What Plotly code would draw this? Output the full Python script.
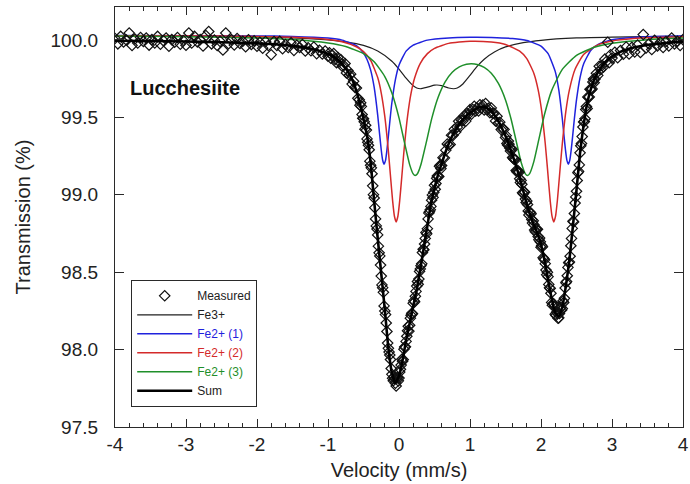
import plotly.graph_objects as go

# ---------------- data ----------------
x_ticks = [-4, -3, -2, -1, 0, 1, 2, 3, 4]
x_tick_labels = ["-4", "-3", "-2", "-1", "0", "1", "2", "3", "4"]
y_ticks = [97.5, 98.0, 98.5, 99.0, 99.5, 100.0]
y_tick_labels = ["97.5", "98.0", "98.5", "99.0", "99.5", "100.0"]

# Measured spectrum (velocity mm/s, transmission %)
meas_v_a = [-4.00, -3.96, -3.92, -3.88, -3.84, -3.80, -3.76, -3.72, -3.68, -3.64,
            -3.60, -3.56, -3.52, -3.48, -3.44, -3.40, -3.36, -3.32, -3.28, -3.24,
            -3.20, -3.16, -3.12, -3.08, -3.04, -3.00, -2.96, -2.92, -2.88, -2.84,
            -2.80, -2.76, -2.72, -2.68, -2.64, -2.60, -2.56, -2.52, -2.48, -2.44,
            -2.40, -2.36, -2.32, -2.28, -2.24, -2.20, -2.16, -2.12, -2.08, -2.04,
            -2.00, -1.96, -1.92, -1.88, -1.84, -1.80, -1.76, -1.72, -1.68, -1.64,
            -1.60, -1.56, -1.52, -1.48, -1.44, -1.40, -1.36, -1.32, -1.28, -1.24,
            -1.20, -1.16, -1.12, -1.08, -1.04, -1.00]
meas_t_a = [100.010, 99.975, 100.023, 99.987, 100.000, 100.045, 99.965, 100.006, 99.980, 100.016,
            99.990, 100.012, 99.967, 100.002, 99.981, 100.023, 99.973, 99.996, 100.012, 99.960,
            100.002, 99.986, 100.016, 99.973, 99.997, 99.966, 100.045, 99.980, 100.023, 99.988,
            100.002, 99.961, 100.029, 100.055, 99.975, 99.999, 99.964, 99.991, 99.935, 100.045,
            99.976, 100.002, 99.968, 100.009, 99.978, 99.992, 99.956, 100.001, 99.971, 99.994,
            99.960, 99.985, 99.947, 99.990, 99.964, 99.905, 99.990, 99.965, 99.991, 99.944,
            99.971, 99.951, 99.981, 99.933, 99.966, 99.951, 99.971, 99.929, 99.949, 99.930,
            99.954, 99.912, 99.934, 99.910, 99.928, 99.895]

meas_v_b = [-0.98, -0.96, -0.94, -0.92, -0.90, -0.88, -0.86, -0.84, -0.82, -0.80,
            -0.78, -0.76, -0.74, -0.72, -0.70, -0.68, -0.66, -0.64, -0.62, -0.60,
            -0.58, -0.56, -0.54, -0.52, -0.50, -0.48, -0.46, -0.44, -0.42, -0.40,
            -0.38, -0.36, -0.34, -0.32, -0.30, -0.28, -0.26, -0.24, -0.22, -0.20,
            -0.18, -0.16, -0.14, -0.12, -0.10, -0.08, -0.06, -0.04, -0.02, 0.00,
            0.02, 0.04, 0.06, 0.08, 0.10, 0.12, 0.14, 0.16, 0.18, 0.20,
            0.22, 0.24, 0.26, 0.28, 0.30, 0.32, 0.34, 0.36, 0.38, 0.40,
            0.42, 0.44, 0.46, 0.48, 0.50, 0.52, 0.54, 0.56, 0.58, 0.60,
            0.62, 0.64, 0.66, 0.68, 0.70, 0.72, 0.74, 0.76, 0.78, 0.80,
            0.82, 0.84, 0.86, 0.88, 0.90, 0.92, 0.94, 0.96, 0.98, 1.00,
            1.02, 1.04, 1.06, 1.08, 1.10, 1.12, 1.14, 1.16, 1.18, 1.20,
            1.22, 1.24, 1.26, 1.28, 1.30, 1.32, 1.34, 1.36, 1.38, 1.40,
            1.42, 1.44, 1.46, 1.48, 1.50, 1.52, 1.54, 1.56, 1.58, 1.60,
            1.62, 1.64, 1.66, 1.68, 1.70, 1.72, 1.74, 1.76, 1.78, 1.80,
            1.82, 1.84, 1.86, 1.88, 1.90, 1.92, 1.94, 1.96, 1.98, 2.00,
            2.02, 2.04, 2.06, 2.08, 2.10, 2.12, 2.14, 2.16, 2.18, 2.20,
            2.22, 2.24, 2.26, 2.28, 2.30, 2.32, 2.34, 2.36, 2.38, 2.40,
            2.42, 2.44, 2.46, 2.48, 2.50, 2.52, 2.54, 2.56, 2.58, 2.60,
            2.62, 2.64, 2.66, 2.68, 2.70, 2.72, 2.74, 2.76, 2.78, 2.80,
            2.82, 2.84, 2.86, 2.88, 2.90, 2.92, 2.94, 2.96, 2.98]
meas_t_b = [99.917, 99.882, 99.901, 99.912, 99.875, 99.853, 99.886, 99.859, 99.873, 99.831,
            99.836, 99.848, 99.787, 99.803, 99.773, 99.779, 99.715, 99.733, 99.694, 99.690,
            99.623, 99.614, 99.594, 99.518, 99.491, 99.424, 99.418, 99.340, 99.291, 99.191,
            99.136, 99.001, 98.917, 98.799, 98.741, 98.625, 98.546, 98.418, 98.370, 98.249,
            98.172, 98.042, 97.984, 97.936, 97.840, 97.799, 97.813, 97.765, 97.819, 97.816,
            97.873, 97.937, 97.935, 98.017, 98.053, 98.121, 98.119, 98.203, 98.234, 98.300,
            98.309, 98.376, 98.440, 98.456, 98.521, 98.554, 98.648, 98.682, 98.757, 98.781,
            98.882, 98.903, 98.965, 98.983, 99.061, 99.073, 99.122, 99.118, 99.190, 99.189,
            99.240, 99.238, 99.288, 99.328, 99.320, 99.325, 99.385, 99.384, 99.423, 99.406,
            99.437, 99.475, 99.440, 99.482, 99.478, 99.512, 99.476, 99.525, 99.520, 99.550,
            99.521, 99.550, 99.572, 99.542, 99.561, 99.541, 99.582, 99.561, 99.580, 99.548,
            99.589, 99.550, 99.559, 99.530, 99.561, 99.525, 99.526, 99.477, 99.507, 99.464,
            99.469, 99.421, 99.426, 99.422, 99.370, 99.331, 99.347, 99.303, 99.300, 99.241,
            99.230, 99.226, 99.149, 99.149, 99.103, 99.093, 99.013, 99.019, 98.972, 98.960,
            98.895, 98.888, 98.877, 98.817, 98.806, 98.761, 98.777, 98.730, 98.721, 98.661,
            98.664, 98.587, 98.555, 98.483, 98.471, 98.399, 98.364, 98.286, 98.294, 98.229,
            98.242, 98.202, 98.233, 98.273, 98.265, 98.304, 98.398, 98.440, 98.531, 98.566,
            98.671, 98.783, 98.825, 98.947, 99.023, 99.143, 99.193, 99.317, 99.376, 99.470,
            99.491, 99.570, 99.632, 99.632, 99.681, 99.684, 99.748, 99.748, 99.785, 99.771,
            99.830, 99.809, 99.836, 99.826, 99.876, 99.860, 99.985, 99.853, 99.905]

meas_v_c = [3.00, 3.04, 3.08, 3.12, 3.16, 3.20, 3.24, 3.28, 3.32, 3.36,
            3.40, 3.44, 3.48, 3.52, 3.56, 3.60, 3.64, 3.68, 3.72, 3.76,
            3.80, 3.84, 3.88, 3.92, 3.96, 4.00]
meas_t_c = [99.883, 99.920, 99.885, 99.932, 99.908, 99.955, 99.909, 99.952, 99.923, 99.967,
            99.919, 100.035, 99.948, 99.975, 99.938, 99.998, 99.961, 99.985, 99.952, 99.990,
            99.962, 100.012, 99.974, 99.992, 99.965, 100.002]

# second half of the (unfolded) spectrum, steep parts of the two dips
meas_v_d = [-0.55, -0.53, -0.51, -0.49, -0.47, -0.45, -0.43, -0.41, -0.39, -0.37,
            -0.35, -0.33, -0.31, -0.29, -0.27, -0.25, -0.23, -0.21, -0.19, -0.17,
            -0.15, -0.13, -0.11, -0.09, -0.07, -0.05, -0.03, -0.01, 0.01, 0.03,
            0.05, 0.07, 0.09, 0.11, 0.13, 0.15, 0.17, 0.19, 0.21, 0.23,
            0.25, 0.27, 0.29, 0.31, 0.33, 0.35, 0.37, 0.39, 0.41, 0.43,
            0.45, 0.47, 0.49, 0.51, 0.53, 0.55, 0.57, 0.59]
meas_t_d = [99.579, 99.571, 99.494, 99.472, 99.449, 99.361, 99.320, 99.217, 99.174, 99.058,
            98.979, 98.844, 98.779, 98.668, 98.605, 98.475, 98.400, 98.282, 98.226, 98.117,
            98.008, 97.965, 97.878, 97.815, 97.824, 97.783, 97.818, 97.798, 97.855, 97.900,
            97.924, 98.003, 98.018, 98.086, 98.151, 98.157, 98.222, 98.231, 98.316, 98.344,
            98.410, 98.422, 98.505, 98.542, 98.627, 98.645, 98.718, 98.748, 98.844, 98.891,
            98.925, 98.999, 99.016, 99.036, 99.107, 99.120, 99.184, 99.169]

meas_v_e = [1.51, 1.53, 1.55, 1.57, 1.59, 1.61, 1.63, 1.65, 1.67, 1.69,
            1.71, 1.73, 1.75, 1.77, 1.79, 1.81, 1.83, 1.85, 1.87, 1.89,
            1.91, 1.93, 1.95, 1.97, 1.99, 2.01, 2.03, 2.05, 2.07, 2.09,
            2.11, 2.13, 2.15, 2.17, 2.19, 2.21, 2.23, 2.25, 2.27, 2.29,
            2.31, 2.33, 2.35, 2.37, 2.39, 2.41, 2.43, 2.45, 2.47, 2.49,
            2.51, 2.53, 2.55, 2.57, 2.59, 2.61, 2.63, 2.65, 2.67, 2.69,
            2.71, 2.73, 2.75]
meas_t_e = [99.382, 99.321, 99.327, 99.283, 99.292, 99.236, 99.230, 99.157, 99.158, 99.145,
            99.079, 99.068, 99.006, 99.017, 98.950, 98.937, 98.870, 98.885, 98.840, 98.832,
            98.773, 98.778, 98.777, 98.709, 98.696, 98.673, 98.594, 98.580, 98.514, 98.499,
            98.421, 98.395, 98.305, 98.297, 98.278, 98.221, 98.234, 98.205, 98.265, 98.256,
            98.314, 98.331, 98.432, 98.477, 98.561, 98.603, 98.718, 98.829, 98.879, 98.986,
            99.092, 99.151, 99.271, 99.331, 99.438, 99.473, 99.551, 99.557, 99.629, 99.682,
            99.679, 99.728, 99.724]

meas_v = meas_v_a + meas_v_b + meas_v_c + meas_v_d + meas_v_e
meas_t = meas_t_a + meas_t_b + meas_t_c + meas_t_d + meas_t_e

# Fe3+ doublet component
fe3_v = [-4.0, -3.0, -2.0, -1.5, -1.0, -0.75, -0.5, -0.3, -0.1, 0.0,
         0.1, 0.2, 0.25, 0.3, 0.4, 0.5, 0.535, 0.6, 0.7, 0.77,
         0.82, 0.9, 1.0, 1.1, 1.2, 1.35, 1.5, 1.75, 2.0, 2.5,
         3.0, 3.5, 4.0]
fe3_t = [100.027, 100.025, 100.020, 100.014, 100.001, 99.988, 99.965, 99.929, 99.863, 99.812,
         99.753, 99.704, 99.690, 99.685, 99.695, 99.708, 99.709, 99.705, 99.690, 99.685,
         99.690, 99.716, 99.771, 99.829, 99.876, 99.924, 99.955, 99.983, 99.998, 100.013,
         100.019, 100.022, 100.025]

# Fe2+ (1) component
fe2a_v = [-4.0, -2.0, -1.5, -1.0, -0.8, -0.6, -0.5, -0.45, -0.4, -0.35,
          -0.3, -0.275, -0.25, -0.23, -0.21, -0.19, -0.17, -0.15, -0.125, -0.1,
          -0.05, 0.0, 0.1, 0.2, 0.4, 0.7, 1.0, 1.3, 1.6, 1.8,
          2.0, 2.1, 2.2, 2.25, 2.3, 2.325, 2.345, 2.365, 2.385, 2.405,
          2.425, 2.445, 2.47, 2.5, 2.55, 2.6, 2.7, 2.8, 3.0, 3.3,
          3.6, 4.0]
fe2a_t = [100.029, 100.026, 100.023, 100.012, 99.999, 99.963, 99.916, 99.874, 99.807, 99.695,
          99.515, 99.400, 99.289, 99.223, 99.198, 99.222, 99.289, 99.377, 99.492, 99.596,
          99.746, 99.837, 99.928, 99.967, 99.999, 100.013, 100.017, 100.016, 100.009, 99.996,
          99.960, 99.912, 99.797, 99.679, 99.491, 99.376, 99.288, 99.222, 99.198, 99.222,
          99.288, 99.376, 99.491, 99.613, 99.757, 99.845, 99.932, 99.970, 100.001, 100.016,
          100.022, 100.025]

# Fe2+ (2) component
fe2b_v = [-4.0, -2.5, -1.5, -1.0, -0.8, -0.6, -0.5, -0.4, -0.3, -0.25,
          -0.2, -0.15, -0.12, -0.09, -0.065, -0.04, -0.015, 0.01, 0.04, 0.07,
          0.12, 0.17, 0.22, 0.3, 0.4, 0.5, 0.7, 1.0, 1.3, 1.5,
          1.7, 1.8, 1.9, 1.96, 2.01, 2.06, 2.09, 2.13, 2.155, 2.18,
          2.205, 2.23, 2.27, 2.3, 2.35, 2.4, 2.48, 2.6, 2.8, 3.0,
          3.3, 3.6, 4.0]
fe2b_t = [100.028, 100.025, 100.017, 100.003, 99.988, 99.956, 99.925, 99.869, 99.757, 99.657,
          99.506, 99.284, 99.121, 98.962, 98.863, 98.825, 98.863, 98.962, 99.120, 99.283,
          99.505, 99.656, 99.754, 99.849, 99.912, 99.946, 99.978, 99.992, 99.987, 99.971,
          99.928, 99.880, 99.784, 99.678, 99.539, 99.330, 99.175, 98.960, 98.862, 98.825,
          98.862, 98.960, 99.175, 99.330, 99.539, 99.678, 99.811, 99.906, 99.968, 99.993,
          100.009, 100.016, 100.021]

# Fe2+ (3) component
fe2c_v = [-4.0, -3.0, -2.0, -1.5, -1.0, -0.75, -0.5, -0.35, -0.2, -0.1,
          0.0, 0.08, 0.15, 0.2, 0.228, 0.26, 0.31, 0.38, 0.46, 0.55,
          0.65, 0.75, 0.85, 0.95, 1.02, 1.1, 1.2, 1.3, 1.4, 1.5,
          1.58, 1.65, 1.72, 1.78, 1.81, 1.84, 1.9, 1.97, 2.05, 2.15,
          2.3, 2.5, 2.75, 3.0, 3.5, 4.0]
fe2c_t = [100.025, 100.021, 100.013, 100.003, 99.981, 99.958, 99.912, 99.859, 99.764, 99.657,
          99.497, 99.332, 99.195, 99.135, 99.125, 99.136, 99.197, 99.330, 99.490, 99.628,
          99.729, 99.791, 99.826, 99.843, 99.846, 99.842, 99.823, 99.785, 99.719, 99.613,
          99.486, 99.348, 99.210, 99.135, 99.125, 99.137, 99.216, 99.358, 99.520, 99.673,
          99.810, 99.901, 99.953, 99.979, 100.002, 100.012]

# Sum of the fit
sum_v = [-4.0, -3.5, -3.0, -2.5, -2.0, -1.75, -1.5, -1.25, -1.0, -0.9,
         -0.8, -0.7, -0.65, -0.6, -0.55, -0.5, -0.45, -0.4, -0.35, -0.3,
         -0.25, -0.2, -0.15, -0.1, -0.05, 0.0, 0.05, 0.1, 0.15, 0.2,
         0.25, 0.3, 0.35, 0.4, 0.45, 0.5, 0.55, 0.6, 0.65, 0.7,
         0.75, 0.8, 0.85, 0.9, 0.95, 1.0, 1.05, 1.1, 1.15, 1.2,
         1.25, 1.3, 1.35, 1.4, 1.45, 1.5, 1.55, 1.6, 1.65, 1.7,
         1.75, 1.8, 1.85, 1.9, 1.95, 2.0, 2.05, 2.1, 2.15, 2.2,
         2.25, 2.3, 2.35, 2.4, 2.45, 2.5, 2.55, 2.6, 2.65, 2.7,
         2.75, 2.8, 2.85, 2.9, 3.0, 3.1, 3.25, 3.5, 3.75, 4.0]
sum_t = [99.995, 99.993, 99.990, 99.985, 99.978, 99.972, 99.962, 99.945, 99.910, 99.885,
         99.845, 99.780, 99.735, 99.670, 99.590, 99.490, 99.380, 99.210, 98.960, 98.720,
         98.490, 98.260, 98.010, 97.850, 97.785, 97.830, 97.930, 98.060, 98.170, 98.280,
         98.390, 98.520, 98.660, 98.800, 98.940, 99.040, 99.130, 99.200, 99.270, 99.330,
         99.380, 99.420, 99.455, 99.485, 99.510, 99.530, 99.545, 99.560, 99.567, 99.567,
         99.557, 99.540, 99.510, 99.475, 99.430, 99.380, 99.320, 99.255, 99.185, 99.110,
         99.025, 98.940, 98.865, 98.805, 98.750, 98.680, 98.575, 98.450, 98.330, 98.240,
         98.215, 98.275, 98.410, 98.580, 98.800, 99.030, 99.270, 99.450, 99.590, 99.680,
         99.745, 99.790, 99.825, 99.855, 99.895, 99.920, 99.945, 99.968, 99.980, 99.990]

# ---------------- figure ----------------
FONT = "Liberation Sans, Arial, sans-serif"
AX = "#2a2a2a"
BLUE = "#1f22dd"
RED = "#d42a2a"
GREEN = "#1f8f2a"

fig = go.Figure()
fig.add_trace(go.Scatter(x=fe3_v, y=fe3_t, mode="lines", name="Fe3+", legendrank=2,
                         line=dict(color="#202020", width=1.2, shape="spline", smoothing=0.6)))
fig.add_trace(go.Scatter(x=fe2a_v, y=fe2a_t, mode="lines", legendrank=3,
                         name='<span style="color:%s">Fe2+ (1)</span>' % BLUE,
                         line=dict(color=BLUE, width=1.5, shape="spline", smoothing=0.5)))
fig.add_trace(go.Scatter(x=fe2b_v, y=fe2b_t, mode="lines", legendrank=4,
                         name='<span style="color:%s">Fe2+ (2)</span>' % RED,
                         line=dict(color=RED, width=1.5, shape="spline", smoothing=0.5)))
fig.add_trace(go.Scatter(x=fe2c_v, y=fe2c_t, mode="lines", legendrank=5,
                         name='<span style="color:%s">Fe2+ (3)</span>' % GREEN,
                         line=dict(color=GREEN, width=1.5, shape="spline", smoothing=0.5)))
fig.add_trace(go.Scatter(x=meas_v, y=meas_t, mode="markers", name="Measured", legendrank=1,
                         marker=dict(symbol="diamond-open", size=8, color="#111111",
                                     line=dict(width=1.2, color="#111111"))))
fig.add_trace(go.Scatter(x=sum_v, y=sum_t, mode="lines", name="Sum", legendrank=6,
                         line=dict(color="#000000", width=2.6, shape="spline", smoothing=0.5)))

fig.add_annotation(text="<b>Lucchesiite</b>", xref="paper", yref="paper",
                   x=0.023, y=0.808, xanchor="left", yanchor="middle", showarrow=False,
                   font=dict(family=FONT, size=20, color="#111111"))

fig.update_layout(
    width=690, height=484,
    margin=dict(l=115, r=7, t=7, b=57),
    paper_bgcolor="white", plot_bgcolor="white",
    font=dict(family=FONT, color="#222222"),
    showlegend=True,
    legend=dict(x=0.028, y=0.35, xanchor="left", yanchor="top",
                bgcolor="white", bordercolor=AX, borderwidth=1.3,
                font=dict(family=FONT, size=12, color="#222222"),
                itemwidth=55, tracegroupgap=0),
)
fig.update_xaxes(
    range=[-4, 4], tickmode="array", tickvals=x_ticks, ticktext=x_tick_labels,
    ticks="inside", ticklen=8, tickwidth=1.2, tickcolor=AX,
    minor=dict(tickmode="linear", tick0=0, dtick=0.2, ticks="inside", ticklen=4,
               tickwidth=1.2, tickcolor=AX),
    showline=True, linecolor=AX, linewidth=1.3, mirror="allticks",
    showgrid=False, zeroline=False, automargin=False, ticklabeloverflow="allow",
    tickfont=dict(family=FONT, size=19, color="#222222"),
    title=dict(text="Velocity (mm/s)", font=dict(family=FONT, size=20, color="#222222"), standoff=9),
)
fig.update_yaxes(
    range=[97.5, 100.213], tickmode="array", tickvals=y_ticks, ticktext=y_tick_labels,
    ticks="inside", ticklen=9, tickwidth=1.2, tickcolor=AX,
    showline=True, linecolor=AX, linewidth=1.3, mirror="allticks",
    showgrid=False, zeroline=False, automargin=False, ticklabelstandoff=12,
    tickfont=dict(family=FONT, size=19, color="#222222"),
    title=dict(text="Transmission (%)", font=dict(family=FONT, size=20, color="#222222"), standoff=14),
)

fig.write_html("out.html", config={"displayModeBar": False})

# remove the browser's default 8px page margin so the 690x484 figure fills the window
with open("out.html", "r", encoding="utf-8") as fh:
    html = fh.read()
html = html.replace("<head>", "<head><style>html,body{margin:0;padding:0;overflow:hidden;}</style>", 1)
with open("out.html", "w", encoding="utf-8") as fh:
    fh.write(html)
